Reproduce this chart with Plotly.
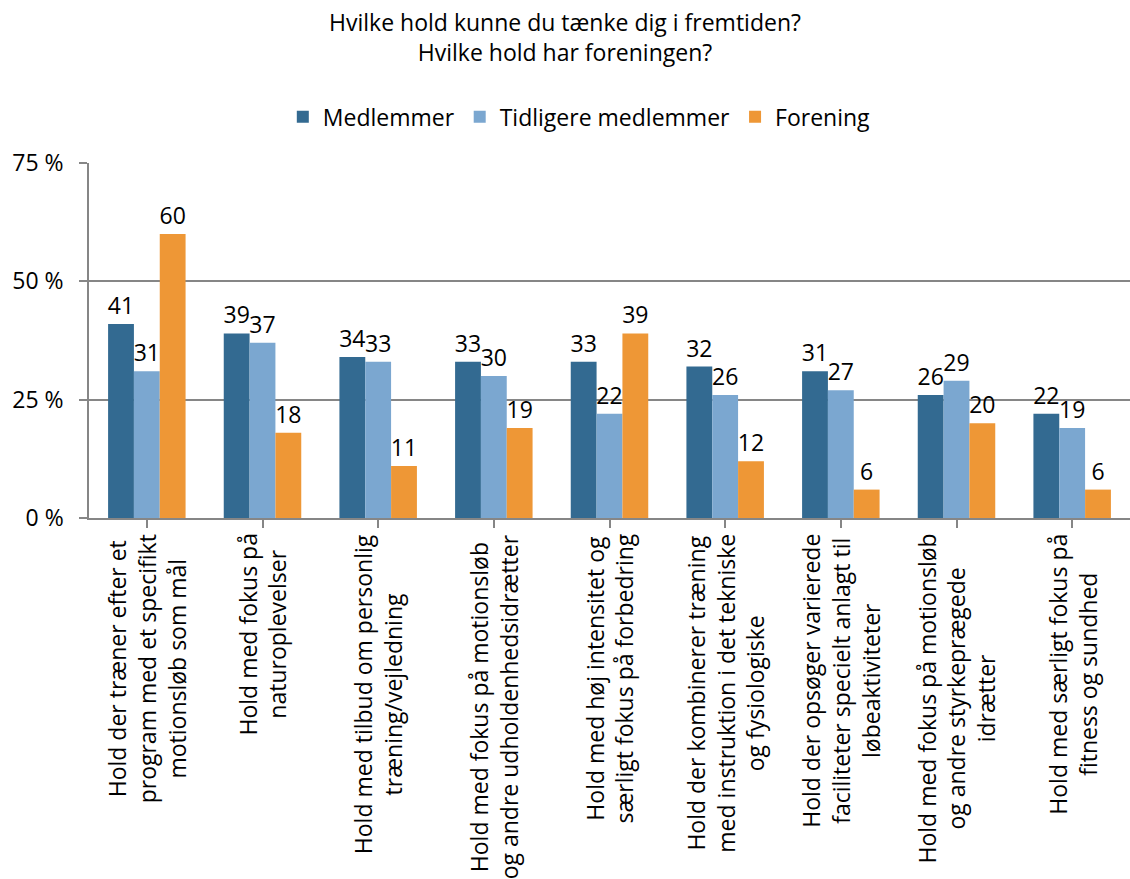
import plotly.graph_objects as go

categories = [
    "Hold der træner efter et<br>program med et specifikt<br>motionsløb som mål",
    "Hold med fokus på<br>naturoplevelser",
    "Hold med tilbud om personlig<br>træning/vejledning",
    "Hold med fokus på motionsløb<br>og andre udholdenhedsidrætter",
    "Hold med høj intensitet og<br>særligt fokus på forbedring",
    "Hold der kombinerer træning<br>med instruktion i det tekniske<br>og fysiologiske",
    "Hold der opsøger varierede<br>faciliteter specielt anlagt til<br>løbeaktiviteter",
    "Hold med fokus på motionsløb<br>og andre styrkeprægede<br>idrætter",
    "Hold med særligt fokus på<br>fitness og sundhed",
]
medlemmer = [41, 39, 34, 33, 33, 32, 31, 26, 22]
tidligere = [31, 37, 33, 30, 22, 26, 27, 29, 19]
forening = [60, 18, 11, 19, 39, 12, 6, 20, 6]
y_ticks = [0, 25, 50, 75]

series = [
    ("Medlemmer", medlemmer, "#336A91"),
    ("Tidligere medlemmer", tidligere, "#7BA7D0"),
    ("Forening", forening, "#EE9736"),
]

FONT = "Open Sans"
FS = 23
x_idx = list(range(len(categories)))

fig = go.Figure()
for name, vals, color in series:
    fig.add_trace(go.Bar(
        x=x_idx, y=vals, name=name,
        marker=dict(color=color, line=dict(width=0)),
        text=[str(v) for v in vals],
        textposition="outside",
        textfont=dict(family=FONT, size=FS, color="black"),
        constraintext="none",
        cliponaxis=False,
    ))

# category labels: rotated, centered multi-line annotations under the axis
for i, lab in enumerate(categories):
    fig.add_annotation(
        x=i, xref="x", y=0, yref="paper",
        text=lab, textangle=-90, showarrow=False,
        xanchor="center", yanchor="top", yshift=-14,
        align="center",
        font=dict(family=FONT, size=FS, color="black"),
    )

fig.update_layout(
    width=1130, height=879,
    paper_bgcolor="white", plot_bgcolor="white",
    margin=dict(l=89, r=0, t=163, b=361),
    barmode="group", bargap=0.33, bargroupgap=0,
    title=dict(
        text="Hvilke hold kunne du tænke dig i fremtiden?<br>Hvilke hold har foreningen?",
        x=0.5, xanchor="center", y=0.965, yanchor="top",
        font=dict(family=FONT, size=FS, color="black"),
    ),
    legend=dict(
        orientation="h", x=0.471, xanchor="center", y=1.13, yanchor="middle",
        font=dict(family=FONT, size=FS, color="black"),
        itemwidth=30, traceorder="normal",
    ),
    font=dict(family=FONT, color="black"),
)
fig.update_xaxes(
    range=[-0.5, len(categories) - 0.5],
    tickmode="array", tickvals=x_idx, showticklabels=False,
    tickson="boundaries", ticks="outside", ticklen=8, tickcolor="#868686", tickwidth=1.5,
    showline=True, linecolor="#868686", linewidth=1.5, showgrid=False, zeroline=False,
)
fig.update_yaxes(
    range=[0, 75], tickmode="array", tickvals=y_ticks,
    ticktext=[f"{v} %" for v in y_ticks],
    ticks="outside", ticklen=8, tickcolor="#868686", tickwidth=1.5,
    ticklabelstandoff=11,
    tickfont=dict(family=FONT, size=FS, color="black"),
    showline=True, linecolor="#868686", linewidth=1.5,
    showgrid=True, gridcolor="#868686", gridwidth=1.5, zeroline=False,
)

fig.write_html("out.html", config={"displayModeBar": False},
               post_script="document.body.style.margin='0';")
